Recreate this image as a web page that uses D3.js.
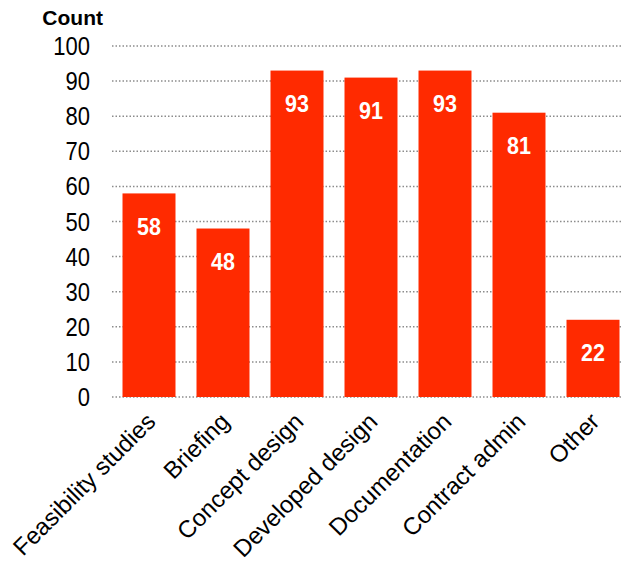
<!DOCTYPE html>
<html>
<head>
<meta charset="utf-8">
<script src="https://cdn.jsdelivr.net/npm/d3@7"></script>
<style>
  body { margin: 0; background: #fff; }
  svg { display: block; font-family: Arial, "Liberation Sans", sans-serif; }
</style>
</head>
<body>
<svg id="chart" width="622" height="565"></svg>
<script>
// Stages of work and how many respondents reported each
const categories = ["Feasibility studies", "Briefing", "Concept design", "Developed design", "Documentation", "Contract admin", "Other"];
const counts = [58, 48, 93, 91, 93, 81, 22];
const yTicks = [0, 10, 20, 30, 40, 50, 60, 70, 80, 90, 100];
const yTitle = "Count";

const svg = d3.select("#chart");
const x = d3.scaleBand().domain(categories).range([112, 630]).paddingInner(0.284).paddingOuter(0.142);
const y = d3.scaleLinear().domain([0, 100]).range([397, 46]);

// dotted horizontal gridlines
svg.append("g").selectAll("line").data(yTicks).join("line")
  .attr("x1", 112).attr("x2", 622)
  .attr("y1", d => y(d)).attr("y2", d => y(d))
  .attr("stroke", "#8c8c8c").attr("stroke-width", 1.5)
  .attr("stroke-dasharray", "1.5,2");

// y tick labels (slightly tall glyphs)
svg.append("g").selectAll("text").data(yTicks).join("text")
  .attr("transform", d => `translate(90,${y(d) + 9}) scale(1,1.15)`)
  .attr("text-anchor", "end").attr("font-size", 22).attr("fill", "#000")
  .text(d => d);

svg.append("text").attr("x", 103).attr("y", 25).attr("text-anchor", "end")
  .attr("font-size", 21).attr("font-weight", "bold").text(yTitle);

// bars
svg.append("g").selectAll("rect").data(counts).join("rect")
  .attr("x", (d, i) => x(categories[i]))
  .attr("width", x.bandwidth())
  .attr("y", d => y(d))
  .attr("height", d => y(0) - y(d))
  .attr("fill", "#ff2a00");

// value labels inside bars
svg.append("g").selectAll("text").data(counts).join("text")
  .attr("transform", (d, i) => `translate(${x(categories[i]) + x.bandwidth() / 2},${y(d) + 41.5}) scale(1,1.12)`)
  .attr("text-anchor", "middle").attr("font-size", 21.5).attr("font-weight", "bold")
  .attr("fill", "#fff").text(d => d);

// rotated category labels
svg.append("g").selectAll("text").data(categories).join("text")
  .attr("transform", d => `translate(${x(d) + x.bandwidth() / 2 + 8},${423}) rotate(-45)`)
  .attr("text-anchor", "end").attr("font-size", 24).attr("fill", "#000")
  .text(d => d);
</script>
</body>
</html>
